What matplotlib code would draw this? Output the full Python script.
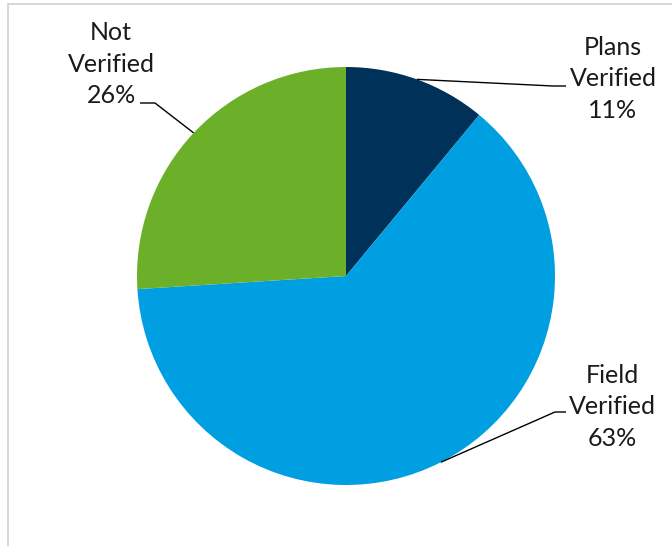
#!/usr/bin/env python3

import numpy as np
import matplotlib.pyplot as plt
from matplotlib.patches import Rectangle

# data
labels = ["Plans\nVerified", "Field\nVerified", "Not\nVerified"]
shares = [11, 63, 26]
colors = ["#003159", "#009fe1", "#6cb02a"]

# label layout in pixels (x, y from top), elbow x, end x of leader
label_pos = [(613, 79), (612, 407), (111, 64)]
leader_bend = [(553, 86), (555, 412), (155, 103)]
leader_end = [(566, 86), (566, 412), (140, 103)]

W, H = 672, 546
CX, CY, R = 346, 276, 209

def _flip(y):
    return H - y

def _main():
    fig = plt.figure(figsize=(W / 100, H / 100), dpi=100)
    ax = fig.add_axes([0, 0, 1, 1])

    ax.pie(
            shares,
            colors=colors,
            startangle=90,
            counterclock=False,
            center=(CX, _flip(CY)),
            radius=R,
            frame=True,
            wedgeprops=dict(linewidth=0),
            )

    ax.set_xlim(0, W)
    ax.set_ylim(0, H)
    ax.set_aspect("equal")
    ax.axis("off")

    # chart border (cropped on right/bottom)
    fig.patches.append(Rectangle(
            (8 / W, -0.1), 1.2, 1.1 - 4 / H,
            transform=fig.transFigure, fill=False,
            edgecolor="#d0d0d0", linewidth=1.2))

    cum = np.cumsum([0] + shares[:-1])
    for i, (lab, pct) in enumerate(zip(labels, shares)):
        mid = (cum[i] + pct / 2.0) / sum(shares) * 2 * np.pi
        sx = CX + R * np.sin(mid)
        sy = CY - R * np.cos(mid)
        bx, by = leader_bend[i]
        ex, ey = leader_end[i]
        ax.plot([sx, bx, ex], [_flip(sy), _flip(by), _flip(ey)],
                color="black", linewidth=1.0, solid_capstyle="butt")
        lx, ly = label_pos[i]
        ax.text(lx, _flip(ly), "{}\n{}%".format(lab, pct),
                ha="center", va="center", fontsize=18,
                family="Lato", linespacing=1.45, color="#1a1a1a")

    fig.savefig("out.png", dpi=100)

if __name__ == "__main__":
    _main()
